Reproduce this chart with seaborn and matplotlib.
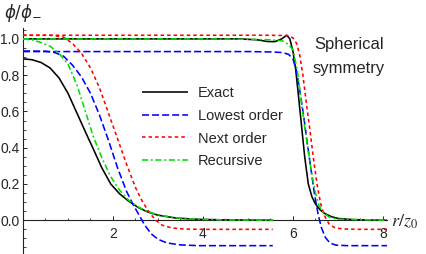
import numpy as np
import pandas as pd
import matplotlib
matplotlib.use("Agg")
import matplotlib.pyplot as plt
import seaborn as sns
from matplotlib.ticker import MultipleLocator, FixedLocator, FormatStrFormatter

# ---------------- data ----------------
# small bubble (left set)
exact_s_x = [0, 0.2, 0.4, 0.6, 0.8, 1.0, 1.2, 1.4, 1.55, 1.75, 1.95, 2.15, 2.35, 2.55, 2.75, 3.0, 3.4, 3.9, 4.5, 5.55]
exact_s_y = [0.89, 0.885, 0.87, 0.84, 0.785, 0.70, 0.59, 0.48, 0.40, 0.29, 0.20, 0.145, 0.105, 0.072, 0.048, 0.028, 0.012, 0.005, 0.002, 0.0]

low_s_x = [0, 0.5, 0.7, 0.9, 1.1, 1.3, 1.5, 1.7, 1.9, 2.1, 2.3, 2.45, 2.6, 2.7, 2.85, 3.0, 3.2, 3.5, 3.9, 4.5, 5.55]
low_s_y = [0.933, 0.932, 0.925, 0.905, 0.855, 0.79, 0.70, 0.58, 0.44, 0.29, 0.16, 0.085, 0.02, -0.025, -0.075, -0.105, -0.125, -0.136, -0.14, -0.14, -0.14]

next_s_x = [0, 0.6, 0.9, 1.1, 1.3, 1.5, 1.7, 1.9, 2.1, 2.3, 2.5, 2.65, 2.8, 2.95, 3.1, 3.3, 3.6, 4.0, 5.55]
next_s_y = [1.02, 1.02, 1.01, 0.975, 0.92, 0.84, 0.73, 0.59, 0.45, 0.31, 0.18, 0.105, 0.045, 0.0, -0.028, -0.042, -0.049, -0.05, -0.05]

rec_s_x = [0, 0.2, 0.4, 0.6, 0.8, 1.0, 1.2, 1.4, 1.55, 1.75, 1.95, 2.15, 2.35, 2.55, 2.75, 3.0, 3.4, 3.9, 4.5, 5.55]
rec_s_y = [1.0, 0.995, 0.98, 0.96, 0.92, 0.86, 0.745, 0.59, 0.47, 0.345, 0.24, 0.165, 0.11, 0.075, 0.05, 0.03, 0.013, 0.005, 0.002, 0.0]

# large bubble (right set)
exact_l_x = [0, 1, 2, 3, 4, 4.8, 5.2, 5.45, 5.6, 5.75, 5.86, 5.93, 6.0, 6.06, 6.12, 6.19, 6.26, 6.34, 6.42, 6.5, 6.6, 6.7, 6.85, 7.0, 7.3, 7.7, 8.1]
exact_l_y = [1.0, 1.0, 1.0, 1.0, 1.0, 1.0, 0.995, 0.985, 0.985, 1.0, 1.02, 1.0, 0.93, 0.83, 0.69, 0.52, 0.35, 0.2, 0.13, 0.09, 0.058, 0.038, 0.02, 0.01, 0.004, 0.001, 0.0]

low_l_x = [0, 2, 4, 5.0, 5.5, 5.75, 5.9, 6.0, 6.08, 6.16, 6.24, 6.32, 6.4, 6.48, 6.56, 6.63, 6.72, 6.82, 6.95, 7.2, 8.1]
low_l_y = [0.93, 0.93, 0.93, 0.93, 0.928, 0.925, 0.915, 0.89, 0.82, 0.70, 0.57, 0.42, 0.28, 0.14, 0.03, -0.04, -0.095, -0.125, -0.137, -0.14, -0.14]

next_l_x = [0, 2, 4, 5.5, 5.9, 6.0, 6.08, 6.15, 6.22, 6.3, 6.38, 6.46, 6.54, 6.62, 6.71, 6.8, 6.92, 7.1, 7.4, 8.1]
next_l_y = [1.02, 1.02, 1.02, 1.02, 1.018, 1.005, 0.975, 0.91, 0.8, 0.64, 0.49, 0.33, 0.19, 0.085, 0.02, -0.02, -0.04, -0.048, -0.05, -0.05]

rec_l_x = [0, 2, 4, 5.0, 5.5, 5.75, 5.85, 5.93, 6.0, 6.1, 6.18, 6.25, 6.33, 6.42, 6.5, 6.58, 6.68, 6.8, 7.0, 8.1]
rec_l_y = [1.0, 1.0, 1.0, 0.998, 0.995, 0.99, 0.978, 0.96, 0.94, 0.82, 0.66, 0.53, 0.40, 0.25, 0.15, 0.08, 0.04, 0.018, 0.006, 0.0]

labels = ["Exact", "Lowest order", "Next order", "Recursive"]
x_ticks = [2, 4, 6, 8]
y_ticks = [0.0, 0.2, 0.4, 0.6, 0.8, 1.0]

# ---------------- styling ----------------
sns.set_style("ticks")
plt.rcParams["font.family"] = ["Liberation Sans", "DejaVu Sans"]

W, H = 427, 254
fig = plt.figure(figsize=(W / 100, H / 100), dpi=100)
x0px, x1px = 23, 387.5
ax = fig.add_axes([x0px / W, 0.0, (x1px - x0px) / W, (254 - 28) / H])
ax.set_xlim(0, 8.1)
ax.set_ylim(-0.186, 1.06)

LW = 1.15
styles = [
    dict(color="black", dashes=None),
    dict(color="#0000ff", dashes=(4.4, 1.9)),
    dict(color="#ff0000", dashes=(2.2, 1.9)),
    dict(color="#00e000", dashes=(3.8, 1.7, 1.2, 1.7)),
]

sets = [
    [(exact_s_x, exact_s_y), (low_s_x, low_s_y), (next_s_x, next_s_y), (rec_s_x, rec_s_y)],
    [(exact_l_x, exact_l_y), (low_l_x, low_l_y), (next_l_x, next_l_y), (rec_l_x, rec_l_y)],
]

handles = []
for si, curves in enumerate(sets):
    for ci, (xs, ys) in enumerate(curves):
        df = pd.DataFrame({"r": xs, "phi": ys})
        st = styles[ci]
        sns.lineplot(data=df, x="r", y="phi", ax=ax, color=st["color"],
                     linewidth=LW, sort=False, estimator=None, zorder=2 + ci)
        line = ax.lines[-1]
        if st["dashes"] is not None:
            line.set_dashes(st["dashes"])
        line.set_solid_capstyle("butt")
        line.set_dash_capstyle("butt")
        line.set_solid_joinstyle("round")
        if si == 0:
            handles.append(line)

# axes through origin, Mathematica-like
for s in ["top", "right"]:
    ax.spines[s].set_visible(False)
ax.spines["left"].set_position(("data", 0))
ax.spines["bottom"].set_position(("data", 0))
for s in ["left", "bottom"]:
    ax.spines[s].set_linewidth(0.8)
    ax.spines[s].set_color("#222222")

ax.xaxis.set_major_locator(FixedLocator(x_ticks))
ax.xaxis.set_minor_locator(MultipleLocator(0.5))
ax.yaxis.set_major_locator(FixedLocator(y_ticks))
ax.yaxis.set_minor_locator(MultipleLocator(0.05))
ax.yaxis.set_major_formatter(FormatStrFormatter("%.1f"))
ax.tick_params(axis="both", which="major", direction="in", length=3.2, width=0.7,
               color="#222222", labelsize=10)
ax.tick_params(axis="both", which="minor", direction="in", length=1.8, width=0.6,
               color="#222222")
ax.tick_params(axis="x", which="major", pad=5)
ax.tick_params(axis="y", which="major", pad=2.5)
ax.set_xlabel("")
ax.set_ylabel("")
ax.grid(False)
ax.patch.set_alpha(0)

leg = ax.legend(handles, labels, loc="upper left", frameon=False, fontsize=10.5,
                handlelength=3.2, handletextpad=0.65, labelspacing=0.6,
                borderpad=0, borderaxespad=0,
                bbox_to_anchor=(141.7 / W, 1 - 86 / H), bbox_transform=fig.transFigure)

fig.text(349 / W, 1 - 44 / H, "Spherical", ha="center", va="center", fontsize=12)
fig.text(349 / W, 1 - 69 / H, "symmetry", ha="center", va="center", fontsize=12)

fig.text(4 / W, 1 - 13 / H, r"$\phi/\phi_{-}$", ha="left", va="center", fontsize=12,
         math_fontfamily="dejavusans")
fig.text(391 / W, 1 - 222 / H, r"$r/z_0$", ha="left", va="center", fontsize=13,
         math_fontfamily="stix")

fig.savefig("out.png", dpi=100)
